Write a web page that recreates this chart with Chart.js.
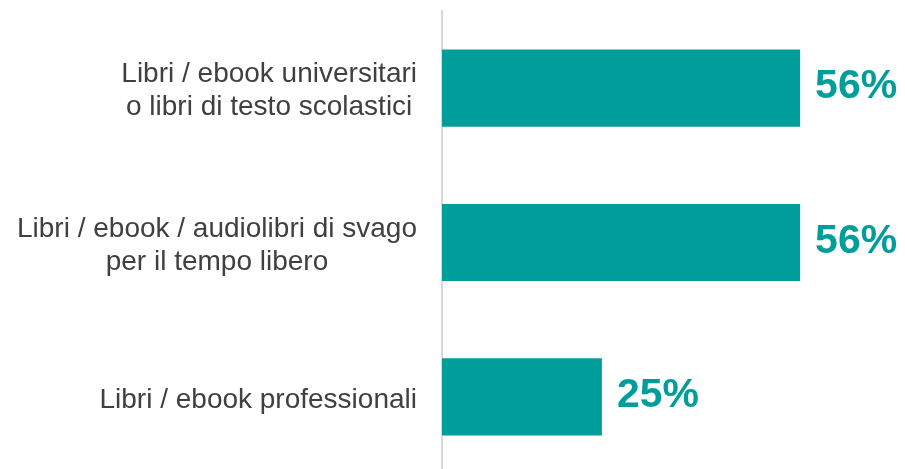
<!DOCTYPE html>
<html>
<head>
<meta charset="utf-8">
<script src="https://cdn.jsdelivr.net/npm/chart.js@4/dist/chart.umd.min.js"></script>
<style>
  html, body { margin: 0; padding: 0; background: #fff; overflow: hidden; }
  #wrap { width: 905px; height: 474px; position: relative; }
</style>
</head>
<body>
<div id="wrap"><canvas id="chart"></canvas></div>
<script>
const categories = [
  ["Libri / ebook universitari", "o libri di testo scolastici"],
  ["Libri / ebook / audiolibri di svago", "per il tempo libero"],
  ["Libri / ebook professionali"]
];
const values = [56, 56, 25];

const teal = "#009E9A";
const labelColor = "#404040";

// category labels: each block right-aligned, its lines centred on each other
const categoryLabels = {
  id: "categoryLabels",
  afterDraw(chart) {
    const ctx = chart.ctx;
    const y = chart.scales.y;
    const right = y.right - 25;
    const fontSize = 28;
    const lineHeight = 33;
    ctx.save();
    ctx.font = fontSize + "px 'Liberation Sans', Arial, sans-serif";
    ctx.fillStyle = labelColor;
    ctx.textBaseline = "middle";
    ctx.textAlign = "center";
    categories.forEach((lines, i) => {
      const cy = y.getPixelForTick(i) + 3;
      const widest = Math.max(...lines.map((l) => ctx.measureText(l).width));
      const cx = right - widest / 2;
      const top = cy - ((lines.length - 1) * lineHeight) / 2;
      lines.forEach((line, j) => {
        ctx.fillText(line, cx, top + j * lineHeight);
      });
    });
    ctx.restore();
  },
};

// value labels next to each bar
const valueLabels = {
  id: "valueLabels",
  afterDatasetsDraw(chart) {
    const ctx = chart.ctx;
    const meta = chart.getDatasetMeta(0);
    ctx.save();
    ctx.font = "bold 41px 'Liberation Sans', Arial, sans-serif";
    ctx.fillStyle = teal;
    ctx.textBaseline = "middle";
    ctx.textAlign = "left";
    meta.data.forEach((bar, i) => {
      ctx.fillText(values[i] + "%", bar.x + 15, bar.y - 1);
    });
    ctx.restore();
  },
};

new Chart(document.getElementById("chart").getContext("2d"), {
  type: "bar",
  data: {
    labels: categories,
    datasets: [
      {
        data: values,
        backgroundColor: teal,
        borderWidth: 0,
        categoryPercentage: 1,
        barPercentage: 0.5,
      },
    ],
  },
  options: {
    indexAxis: "y",
    responsive: true,
    maintainAspectRatio: false,
    animation: false,
    layout: { padding: { top: 11, right: 0, bottom: 0, left: 0 } },
    scales: {
      x: {
        display: false,
        min: 0,
        max: 72.4,
      },
      y: {
        afterFit(scale) {
          scale.width = 442;
        },
        grid: { display: false, drawTicks: false },
        border: { display: true, color: "#D9D9D9", width: 2 },
        ticks: { display: false },
      },
    },
    plugins: {
      legend: { display: false },
      tooltip: { enabled: false },
    },
  },
  plugins: [categoryLabels, valueLabels],
});
</script>
</body>
</html>
